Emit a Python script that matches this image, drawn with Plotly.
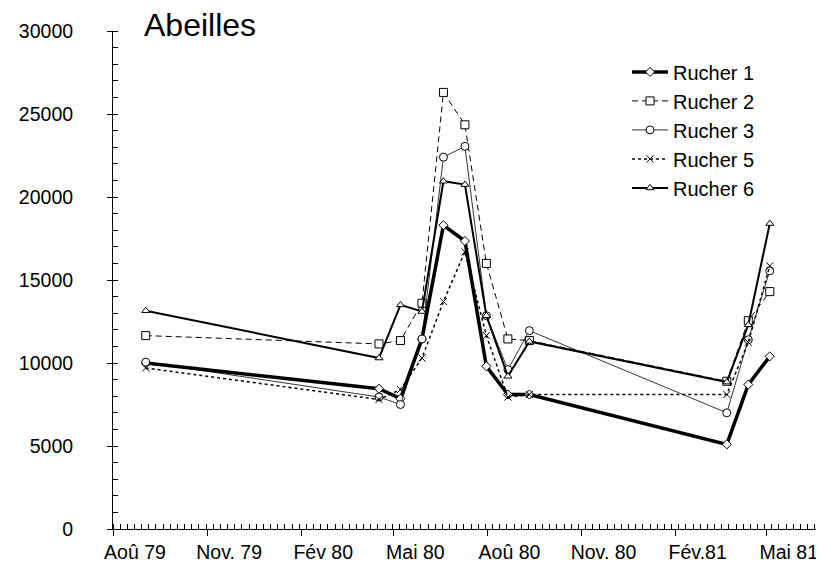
import plotly.graph_objects as go

# dates de prélèvement (tous les 21 jours environ)
dates = ["1979-09-02", "1980-04-17", "1980-05-08", "1980-05-29", "1980-06-19",
         "1980-07-10", "1980-07-31", "1980-08-21", "1980-09-11",
         "1981-03-23", "1981-04-13", "1981-05-04"]

rucher1 = [10000, 8450, 7850, 11450, 18300, 17350, 9800, 8100, 8100, 5100, 8700, 10400]
rucher2 = [11650, 11150, 11350, 13600, 26300, 24350, 16000, 11450, 11350, 8900, 12550, 14300]
rucher3 = [10050, 7950, 7500, 11450, 22400, 23050, 12850, 9600, 11950, 7000, 11400, 15550]
rucher5 = [9700, 7800, 8400, 10300, 13700, 16700, 11650, 7950, 8100, 8100, 11250, 15850]
rucher6 = [13150, 10300, 13500, 13100, 20950, 20750, 12850, 9200, 11300, 8850, 12300, 18400]

tick_dates = ["1979-08-01", "1979-11-01", "1980-02-01", "1980-05-01",
              "1980-08-01", "1980-11-01", "1981-02-01", "1981-05-01"]
tick_labels = ["Aoû 79", "Nov. 79", "Fév 80", "Mai 80",
               "Aoû 80", "Nov. 80", "Fév.81", "Mai 81"]

y_ticks = [0, 5000, 10000, 15000, 20000, 25000, 30000]
y_labels = ["0", "5000", "10000", "15000", "20000", "25000", "30000"]

x_range = ["1979-08-01", "1981-06-26"]
police = "Arial, Liberation Sans, sans-serif"

series = [
    ("Rucher 1", rucher1, dict(width=3.5, dash="solid"), "diamond", 7),
    ("Rucher 2", rucher2, dict(width=1, dash="6px,4px"), "square", 8),
    ("Rucher 3", rucher3, dict(width=0.8, dash="solid"), "circle", 8),
    ("Rucher 5", rucher5, dict(width=1.5, dash="dot"), "x-thin", 7),
    ("Rucher 6", rucher6, dict(width=2, dash="solid"), "triangle-up", 7),
]

fig = go.Figure()
for nom, valeurs, ligne, symbole, taille in series:
    fig.add_trace(go.Scatter(
        x=dates, y=valeurs, name=nom, mode="lines+markers",
        line=dict(color="black", **ligne),
        marker=dict(symbol=symbole, size=taille, color="white",
                    line=dict(color="black", width=1)),
        cliponaxis=False
    ))

# la page ajoute une marge de 8 px autour de la figure
fig.update_layout(
    width=816, height=555,
    margin=dict(l=105, r=0, t=23, b=34),
    paper_bgcolor="white", plot_bgcolor="white",
    font=dict(family=police, size=19.5, color="black"),
    title=dict(text="Abeilles", x=136 / 816, xanchor="left",
               y=1 - 17 / 555, yanchor="middle", pad=dict(l=0, r=0, t=0, b=0),
               font=dict(family=police, size=32, color="black")),
    showlegend=True,
    legend=dict(x=0.723, y=0.957, xanchor="left", yanchor="top",
                itemwidth=36,
                bgcolor="rgba(0,0,0,0)", font=dict(size=20)),
    xaxis=dict(
        type="date", range=x_range, showgrid=False, zeroline=False,
        automargin=False,
        showline=True, linecolor="black", linewidth=1,
        tickvals=tick_dates, ticktext=tick_labels,
        ticks="outside", ticklen=6, tickcolor="black",
        ticklabelshift=22,
        minor=dict(dtick=7 * 86400000, tick0="1979-08-01",
                   ticks="inside", ticklen=5, tickcolor="black", showgrid=False),
    ),
    yaxis=dict(
        range=[0, 30000], showgrid=False, zeroline=False,
        automargin=False,
        showline=True, linecolor="black", linewidth=1,
        tickvals=y_ticks, ticktext=y_labels,
        ticks="outside", ticklen=5, tickcolor="black",
        ticklabelstandoff=30,
        minor=dict(dtick=1000, ticks="inside", ticklen=5,
                   tickcolor="black", showgrid=False),
    ),
    # axes superposés pour la partie intérieure des graduations principales
    xaxis2=dict(type="date", range=x_range, overlaying="x", showgrid=False,
                zeroline=False, tickvals=tick_dates, showticklabels=False,
                automargin=False,
                ticks="inside", ticklen=6, tickcolor="black", side="bottom"),
    yaxis2=dict(range=[0, 30000], overlaying="y", showgrid=False,
                zeroline=False, tickvals=y_ticks, showticklabels=False,
                automargin=False,
                ticks="inside", ticklen=6, tickcolor="black", side="left"),
)

fig.write_html("out.html")
